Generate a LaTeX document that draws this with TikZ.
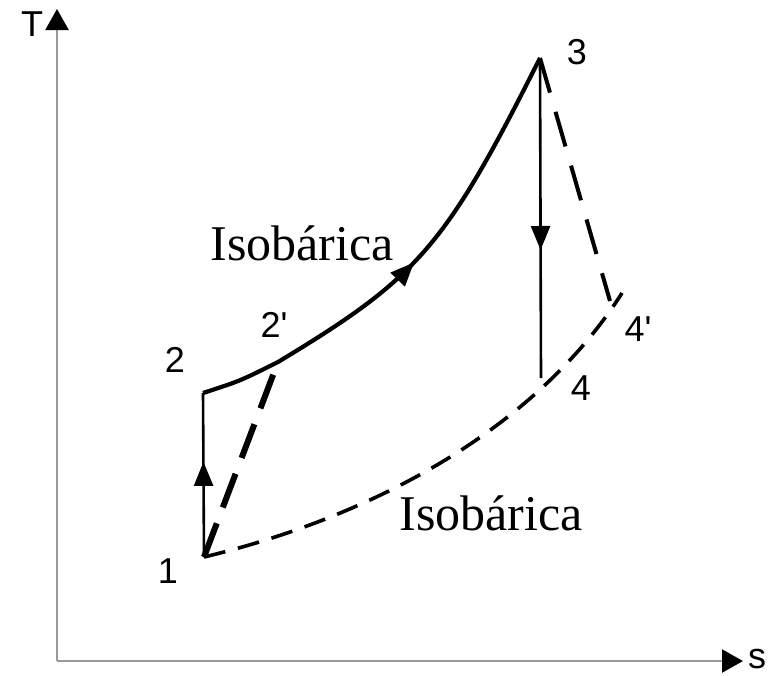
\documentclass[tikz,border=0pt]{standalone}
\usepackage{fontspec}
\setmainfont{Liberation Serif}
\setsansfont{Liberation Sans}
\usetikzlibrary{arrows.meta,decorations.markings}

\begin{document}
\begin{tikzpicture}[
  x=1pt, y=-1pt,
  axis/.style={draw=gray!80, line width=2.2pt, -{Triangle[length=21pt, width=23pt, color=black]}},
  proc/.style={draw=black, line width=2.6pt},
  isobar/.style={draw=black, line width=4.2pt, line join=round},
  lowbar/.style={draw=black, line width=3.6pt, dash pattern=on 22pt off 13pt},
  realcomp/.style={draw=black, line width=6pt, dash pattern=on 36pt off 17pt},
  realexp/.style={draw=black, line width=4pt, dash pattern=on 36pt off 20pt},
  midarrow/.style={postaction={decorate, decoration={markings,
      mark=at position #1 with {\arrow{Triangle[length=24pt, width=19pt]}}}}},
  ptlabel/.style={font=\sffamily\fontsize{36}{36}\selectfont, inner sep=0pt},
  isolabel/.style={font=\fontsize{50}{50}\selectfont, inner sep=0pt, anchor=base}
]
\useasboundingbox (0,0) rectangle (775,675);

% ---------- axes ----------
\coordinate (O) at (57,661);
\coordinate (Ttop) at (57,9);
\coordinate (Send) at (743,661);
\draw[axis] (O) -- (Ttop);
\draw[axis] (O) -- (Send);
\node[ptlabel] (Tlab) at (32,24) {T};
\node[ptlabel, anchor=west] (Slab) at (748,659) {s};

% ---------- state points ----------
\coordinate (p1)  at (204,557);
\coordinate (p2)  at (203,393);
\coordinate (p2r) at (278,362);
\coordinate (p3)  at (540,58);
\coordinate (p4)  at (541,378);
\coordinate (p4r) at (622,293);
\coordinate (e4r) at (610,301);

% ---------- processes ----------
\draw[proc, midarrow=0.58] (p1) -- (p2);
\draw[isobar, midarrow=0.51] (p2) .. controls (240,381) .. (p2r)
  .. controls (419,277) and (445,247) .. (p3);
\draw[proc, midarrow=0.6] (p3) -- (p4);
\draw[lowbar] (p1) .. controls (371,517) and (535,430) .. (p4r);
\draw[realcomp] (p1) -- (p2r);
\draw[realexp] (p3) -- (e4r);

% ---------- labels ----------
\node[ptlabel] (l1)  at (168,571) {1};
\node[ptlabel] (l2)  at (175,360) {2};
\node[ptlabel] (l2r) at (274,325) {2\textquotesingle};
\node[ptlabel] (l3)  at (577,52) {3};
\node[ptlabel] (l4)  at (581,388) {4};
\node[ptlabel] (l4r) at (638,329) {4\textquotesingle};

\node[isolabel] (isoTop) at (302,260) {Isobárica};
\node[isolabel] (isoLow) at (491,530) {Isobárica};
\end{tikzpicture}
\end{document}
